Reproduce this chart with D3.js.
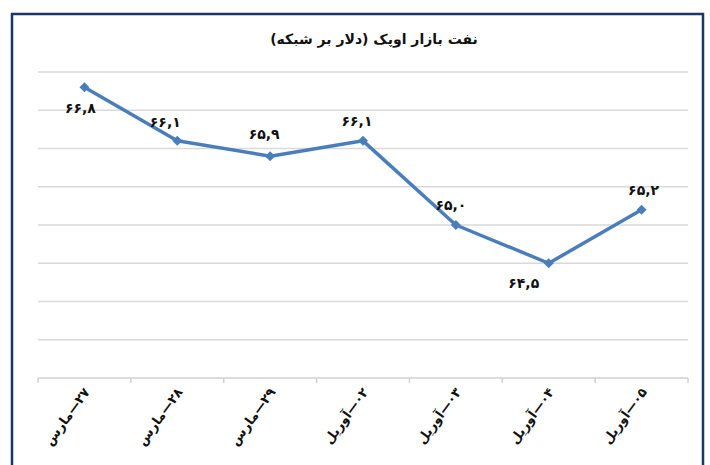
<!DOCTYPE html>
<html>
<head>
<meta charset="utf-8">
<script src="https://cdn.jsdelivr.net/npm/d3@7"></script>
<style>
  body { margin: 0; background: #fff; }
  text { font-family: 'DejaVu Sans', sans-serif; font-weight: bold; fill: #111; }
</style>
</head>
<body>
<svg width="710" height="465"></svg>
<script>
// chart data
var categories = ['۲۷—مارس', '۲۸—مارس', '۲۹—مارس', '۰۲—آوریل', '۰۳—آوریل', '۰۴—آوریل', '۰۵—آوریل'];
var prices = [66.8, 66.1, 65.9, 66.1, 65.0, 64.5, 65.2];
var priceLabels = ['۶۶,۸', '۶۶,۱', '۶۵,۹', '۶۶,۱', '۶۵,۰', '۶۴,۵', '۶۵,۲'];
var gridTicks = [63, 63.5, 64, 64.5, 65, 65.5, 66, 66.5, 67];
var chartTitle = 'نفت بازار اوپک (دلار بر شبکه)';

// where each data label sits relative to its point
var labelPlace = [
    { dx: -4, dy: 21 }, { dx: -12, dy: -19 }, { dx: -6, dy: -22 }, { dx: -6, dy: -20 },
    { dx: -5, dy: -20 }, { dx: -25, dy: 20 }, { dx: 2, dy: -20 }
];

var svg = d3.select('svg');
var padding = { t: 72, r: 22, b: 87, l: 38 };
var chartWidth = 710 - padding.l - padding.r;
var chartHeight = 465 - padding.t - padding.b;

// outer frame
svg.append('rect')
    .attr('x', 12).attr('y', 14)
    .attr('width', 691).attr('height', 470)
    .attr('fill', 'none')
    .attr('stroke', '#1b3766')
    .attr('stroke-width', 2.5);

svg.append('text')
    .attr('x', 374).attr('y', 44)
    .attr('direction', 'rtl')
    .attr('text-anchor', 'middle')
    .style('font-size', '14px')
    .text(chartTitle);

var chartG = svg.append('g')
    .attr('transform', `translate(${padding.l}, ${padding.t})`);

var xScale = d3.scaleBand().domain(categories).range([0, chartWidth]);
var yScale = d3.scaleLinear().domain([63, 67]).range([chartHeight, 0]);

// gridlines
chartG.selectAll('.grid')
    .data(gridTicks.slice(1))
    .enter().append('line')
    .attr('class', 'grid')
    .attr('x1', 0).attr('x2', chartWidth)
    .attr('y1', d => yScale(d)).attr('y2', d => yScale(d))
    .attr('stroke', '#d9d9d9')
    .attr('stroke-width', 1.5);

// x axis with ticks between categories
var xAxisG = chartG.append('g')
    .attr('transform', `translate(0, ${chartHeight})`);
xAxisG.append('line')
    .attr('x1', 0).attr('x2', chartWidth)
    .attr('stroke', '#d0d0d0').attr('stroke-width', 1.5);
var tickPos = categories.map(c => xScale(c)).concat([chartWidth]);
xAxisG.selectAll('.tick')
    .data(tickPos)
    .enter().append('line')
    .attr('x1', d => d).attr('x2', d => d)
    .attr('y1', 0).attr('y2', 5)
    .attr('stroke', '#d0d0d0').attr('stroke-width', 1.5);
xAxisG.selectAll('.xlabel')
    .data(categories)
    .enter().append('text')
    .attr('class', 'xlabel')
    .attr('direction', 'rtl')
    .attr('text-anchor', 'start')
    .style('font-size', '13px')
    .attr('transform', d => `translate(${xScale(d) + xScale.bandwidth() / 2 + 6}, 14) rotate(-54)`)
    .text(d => d);

// the price line
var line = d3.line()
    .x((d, i) => xScale(categories[i]) + xScale.bandwidth() / 2)
    .y(d => yScale(d));

chartG.append('path')
    .datum(prices)
    .attr('d', line)
    .attr('fill', 'none')
    .attr('stroke', '#4a7ebb')
    .attr('stroke-width', 3.5)
    .attr('stroke-linejoin', 'round');

chartG.selectAll('.marker')
    .data(prices)
    .enter().append('path')
    .attr('class', 'marker')
    .attr('d', d3.symbol().type(d3.symbolDiamond2).size(64))
    .attr('transform', (d, i) => `translate(${xScale(categories[i]) + xScale.bandwidth() / 2}, ${yScale(d)})`)
    .attr('fill', '#4a7ebb');

chartG.selectAll('.dlabel')
    .data(prices)
    .enter().append('text')
    .attr('class', 'dlabel')
    .attr('text-anchor', 'middle')
    .style('font-size', '14px')
    .attr('x', (d, i) => xScale(categories[i]) + xScale.bandwidth() / 2 + labelPlace[i].dx)
    .attr('y', (d, i) => yScale(d) + labelPlace[i].dy + 5)
    .text((d, i) => priceLabels[i]);
</script>
</body>
</html>
